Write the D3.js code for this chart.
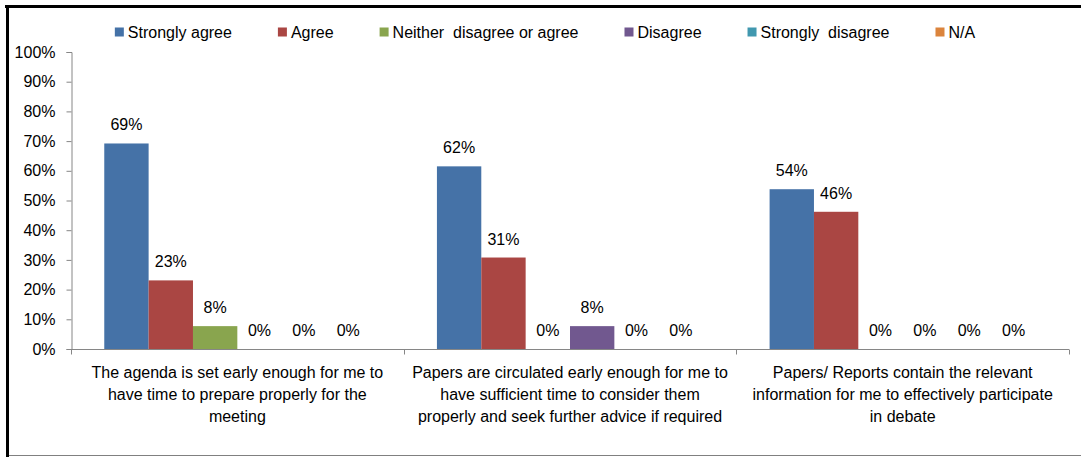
<!DOCTYPE html>
<html lang="en">
<head>
    <meta charset="UTF-8">
    <title>Meeting papers survey</title>
    <script src="https://d3js.org/d3.v7.min.js"></script>
    <style>
        body { margin: 0; background: #fff; }
        text { font-family: "Liberation Sans", Arial, sans-serif; fill: #000; white-space: pre; }
        .axis path, .axis line { stroke: #868686; }
    </style>
</head>
<body>
    <svg id="chart" width="1081" height="457"></svg>

    <script>
        // categories (each one wrapped in lines like the original)
        const categories = ["c1", "c2", "c3"];
        const categoryLines = [
            ["The agenda is set early enough for me to", "have time to prepare properly for the", "meeting"],
            ["Papers are circulated early enough for me to", "have sufficient time to consider them", "properly and seek further advice if required"],
            ["Papers/ Reports contain the relevant", "information for me to effectively participate", "in debate"]
        ];

        const seriesNames = ["Strongly agree", "Agree", "Neither  disagree or agree", "Disagree", "Strongly  disagree", "N/A"];
        const seriesColors = ["#4572A7", "#AA4643", "#89A54E", "#71588F", "#4198AF", "#DB843D"];

        // one array per series, one value per category
        const stronglyAgree = [0.692, 0.615, 0.538];
        const agree         = [0.231, 0.308, 0.462];
        const neither       = [0.077, 0, 0];
        const disagree      = [0, 0.077, 0];
        const stronglyDis   = [0, 0, 0];
        const notApplicable = [0, 0, 0];
        const seriesValues = [stronglyAgree, agree, neither, disagree, stronglyDis, notApplicable];

        const yTicks = [0, 0.1, 0.2, 0.3, 0.4, 0.5, 0.6, 0.7, 0.8, 0.9, 1];

        const fontSize = "16px";
        const svg = d3.select("#chart");

        // chart frame: thick black top/left, thin grey bottom
        svg.append("line").attr("x1", 5).attr("x2", 1081).attr("y1", 6.5).attr("y2", 6.5)
           .attr("stroke", "#000").attr("stroke-width", 3);
        svg.append("line").attr("x1", 7.5).attr("x2", 7.5).attr("y1", 5).attr("y2", 457)
           .attr("stroke", "#000").attr("stroke-width", 3);
        svg.append("line").attr("x1", 9).attr("x2", 1081).attr("y1", 455.5).attr("y2", 455.5)
           .attr("stroke", "#808080").attr("stroke-width", 1);

        const plot = { left: 71, right: 1069, top: 52, bottom: 349 };

        const x0 = d3.scaleBand().domain(categories).range([plot.left, plot.right]).padding(0);
        // gap width 150% => inner bars fill 6/(6+1.5)
        const x1 = d3.scaleBand().domain(d3.range(seriesNames.length))
                     .range([0, x0.bandwidth()]).paddingOuter(0.75).paddingInner(0);
        const y = d3.scaleLinear().domain([0, 1]).range([plot.bottom, plot.top]);

        // y axis
        const yAxis = svg.append("g").attr("class", "axis")
            .attr("transform", `translate(${plot.left + 0.5},0)`)
            .call(d3.axisLeft(y).tickValues(yTicks).tickFormat(d3.format(".0%")).tickSizeOuter(0).tickSize(5).tickPadding(11));
        yAxis.selectAll("text").style("font-size", fontSize).attr("fill", "#000");

        // x axis
        const xAxis = svg.append("g").attr("class", "axis")
            .attr("transform", `translate(0,${plot.bottom + 0.5})`);
        xAxis.append("line").attr("x1", plot.left).attr("x2", plot.right)
             .attr("stroke", "#868686");
        xAxis.selectAll(".sep")
            .data([plot.left, ...categories.map(c => x0(c) + x0.bandwidth())])
            .enter().append("line")
            .attr("x1", d => Math.round(d) + 0.5).attr("x2", d => Math.round(d) + 0.5)
            .attr("y1", 0).attr("y2", 5).attr("stroke", "#868686");

        // category labels
        categories.forEach((c, i) => {
            const t = svg.append("text")
                .attr("text-anchor", "middle")
                .style("font-size", fontSize)
                .attr("transform", `translate(${x0(c) + x0.bandwidth() / 2},${plot.bottom + 29})`);
            categoryLines[i].forEach((ln, j) => {
                t.append("tspan").attr("x", 0).attr("y", j * 22).text(ln);
            });
        });

        // bars
        const groups = svg.selectAll(".cat")
            .data(categories)
            .enter().append("g")
            .attr("class", "cat")
            .attr("transform", c => `translate(${x0(c)},0)`);

        groups.each(function(c, ci) {
            const g = d3.select(this);
            seriesValues.forEach((vals, si) => {
                const v = vals[ci];
                if (v > 0) {
                    g.append("rect")
                        .attr("x", x1(si))
                        .attr("y", y(v))
                        .attr("width", x1.bandwidth())
                        .attr("height", y(0) - y(v))
                        .attr("fill", seriesColors[si]);
                }
                g.append("text")
                    .attr("x", x1(si) + x1.bandwidth() / 2)
                    .attr("y", y(v) - 13)
                    .attr("text-anchor", "middle")
                    .style("font-size", fontSize)
                    .text(d3.format(".0%")(v));
            });
        });

        // legend
        const legend = svg.append("g").attr("transform", "translate(0,32)");
        let lx = 0;
        seriesNames.forEach((name, i) => {
            const it = legend.append("g");
            it.append("rect").attr("x", 0).attr("y", -4.5).attr("width", 9).attr("height", 9)
              .attr("fill", seriesColors[i]);
            const t = it.append("text").attr("x", 13).attr("dy", "0.35em")
              .style("font-size", fontSize).text(name);
            const w = 13 + t.node().getComputedTextLength();
            it.attr("transform", `translate(${lx},0)`);
            lx += w + 46;
        });
        const totalW = lx - 46;
        legend.attr("transform", `translate(${545 - totalW / 2},32)`);
    </script>
</body>
</html>
